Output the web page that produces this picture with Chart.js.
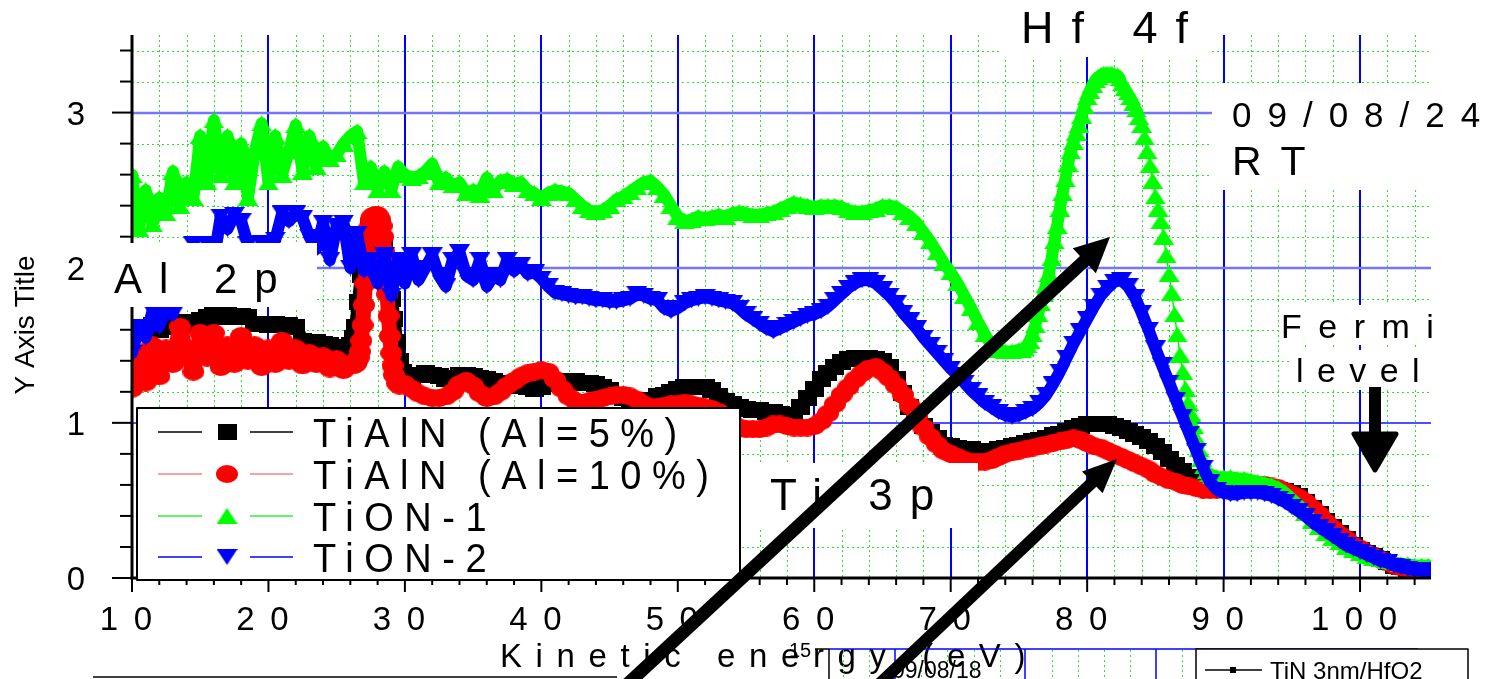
<!DOCTYPE html>
<html>
<head>
<meta charset="utf-8">
<title>Kinetic energy spectra</title>
<script src="https://cdn.jsdelivr.net/npm/chart.js@4.4.1/dist/chart.umd.min.js"></script>
<style>
  html, body { margin: 0; padding: 0; background: #fff; }
  canvas { display: block; }
</style>
</head>
<body>
<canvas id="chart" width="1494" height="679"></canvas>
<script>
// ---------------- data ----------------
const xTickValues = [10, 20, 30, 40, 50, 60, 70, 80, 90, 100];
const yTickValues = [0, 1, 2, 3];
const seriesNames = ['TiAlN (Al=5%)', 'TiAlN (Al=10%)', 'TiON-1', 'TiON-2'];

// TiAlN (Al=5%)
const tialn5Energy = [
  10,10.5,11,11.5,12,12.5,13,13.5,14,14.5,15,15.5,16,16.5,17,17.5,18,18.5,19,19.5,
  20,20.5,21,21.5,22,22.5,23,23.5,24,24.5,25,25.5,26,26.2,26.4,26.6,26.8,27,27.2,27.4,27.6,27.8,28,28.2,28.4,28.6,28.8,29,29.2,29.4,29.6,29.8,
  30,30.5,31,31.5,32,32.5,33,33.5,34,34.5,35,35.5,36,36.5,37,37.5,38,38.5,39,39.5,
  40,40.5,41,41.5,42,42.5,43,43.5,44,44.5,45,45.5,46,46.5,47,47.5,48,48.5,49,49.5,
  50,50.5,51,51.5,52,52.5,53,53.5,54,54.5,55,55.5,56,56.5,57,57.5,58,58.5,59,59.5,
  60,60.5,61,61.5,62,62.5,63,63.5,64,64.5,65,65.5,66,66.5,67,67.5,68,68.5,69,69.5,
  70,70.5,71,71.5,72,72.5,73,73.5,74,74.5,75,75.5,76,76.5,77,77.5,78,78.5,79,79.5,
  80,80.5,81,81.5,82,82.5,83,83.5,84,84.5,85,85.5,86,86.5,87,87.5,88,88.5,89,89.5,
  90,90.5,91,91.5,92,92.5,93,93.5,94,94.5,95,95.5,96,96.5,97,97.5,98,98.5,99,99.5,
  100,100.5,101,101.5,102,102.5,103,103.5,104,104.5,105
];
const tialn5Intensity = [
  1.60,1.62,1.58,1.63,1.60,1.62,1.64,1.62,1.65,1.63,1.66,1.68,1.70,1.68,1.70,1.68,1.69,1.68,1.64,1.64,
  1.63,1.64,1.63,1.63,1.62,1.53,1.52,1.52,1.51,1.50,1.49,1.48,1.50,1.55,1.62,1.78,1.95,2.12,2.22,2.27,2.28,2.28,2.26,2.22,2.14,2.03,1.92,1.80,1.67,1.52,1.40,1.33,
  1.30,1.29,1.31,1.32,1.31,1.30,1.28,1.29,1.31,1.31,1.30,1.29,1.28,1.27,1.26,1.25,1.24,1.24,1.23,1.22,
  1.23,1.25,1.26,1.26,1.27,1.27,1.26,1.26,1.25,1.23,1.21,1.18,1.16,1.15,1.15,1.15,1.15,1.17,1.18,1.20,
  1.22,1.23,1.23,1.23,1.23,1.21,1.17,1.14,1.12,1.10,1.09,1.08,1.08,1.07,1.07,1.06,1.04,1.05,1.10,1.16,
  1.22,1.28,1.32,1.36,1.39,1.41,1.42,1.42,1.42,1.41,1.40,1.36,1.28,1.19,1.10,1.04,0.98,0.94,0.90,0.86,
  0.85,0.84,0.83,0.83,0.82,0.82,0.82,0.83,0.84,0.85,0.86,0.87,0.88,0.89,0.90,0.92,0.93,0.95,0.97,0.98,
  0.99,0.99,0.99,0.99,0.98,0.97,0.95,0.93,0.91,0.88,0.85,0.81,0.77,0.73,0.69,0.65,0.61,0.59,0.57,0.57,
  0.57,0.57,0.57,0.58,0.58,0.58,0.58,0.58,0.57,0.56,0.55,0.53,0.49,0.45,0.41,0.37,0.33,0.29,0.25,0.21,
  0.18,0.16,0.14,0.12,0.10,0.08,0.07,0.06,0.05,0.04,0.04
];

// TiAlN (Al=10%)
const tialn10Energy = [
  10,10.5,11,11.5,12,12.5,13,13.5,14,14.5,15,15.5,16,16.5,17,17.5,18,18.5,19,19.5,
  20,20.5,21,21.5,22,22.5,23,23.5,24,24.5,25,25.5,26,26.2,26.4,26.5,26.6,26.7,26.8,26.9,27,27.1,27.2,27.3,27.4,27.5,27.6,27.8,28,28.2,28.3,28.4,28.5,28.6,28.7,28.8,28.9,29,29.1,29.2,29.4,29.6,
  30,30.5,31,31.5,32,32.5,33,33.5,34,34.5,35,35.5,36,36.5,37,37.5,38,38.5,39,39.5,
  40,40.5,41,41.5,42,42.5,43,43.5,44,44.5,45,45.5,46,46.5,47,47.5,48,48.5,49,49.5,
  50,50.5,51,51.5,52,52.5,53,53.5,54,54.5,55,55.5,56,56.5,57,57.5,58,58.5,59,59.5,
  60,60.5,61,61.5,62,62.5,63,63.5,64,64.5,65,65.5,66,66.5,67,67.5,68,68.5,69,69.5,
  70,70.5,71,71.5,72,72.5,73,73.5,74,74.5,75,75.5,76,76.5,77,77.5,78,78.5,79,79.5,
  80,80.5,81,81.5,82,82.5,83,83.5,84,84.5,85,85.5,86,86.5,87,87.5,88,88.5,89,89.5,
  90,90.5,91,91.5,92,92.5,93,93.5,94,94.5,95,95.5,96,96.5,97,97.5,98,98.5,99,99.5,
  100,100.5,101,101.5,102,102.5,103,103.5,104,104.5,105
];
const tialn10Intensity = [
  1.22,1.45,1.26,1.50,1.30,1.48,1.38,1.62,1.45,1.33,1.58,1.42,1.58,1.36,1.50,1.38,1.56,1.40,1.50,1.36,
  1.48,1.38,1.53,1.40,1.48,1.37,1.45,1.38,1.43,1.35,1.41,1.34,1.38,1.37,1.38,1.40,1.42,1.46,1.53,1.63,1.76,1.90,2.04,2.17,2.26,2.31,2.33,2.34,2.34,2.31,2.27,2.20,2.10,1.97,1.83,1.69,1.56,1.45,1.37,1.31,1.26,1.24,
  1.25,1.22,1.19,1.17,1.16,1.16,1.17,1.20,1.25,1.27,1.24,1.19,1.16,1.17,1.20,1.24,1.27,1.30,1.32,1.33,
  1.34,1.33,1.28,1.22,1.17,1.14,1.13,1.14,1.15,1.16,1.17,1.18,1.18,1.17,1.15,1.12,1.10,1.10,1.11,1.12,
  1.12,1.13,1.12,1.11,1.10,1.09,1.07,1.04,1.00,0.97,0.96,0.96,0.96,0.97,0.99,0.99,0.98,0.97,0.97,0.97,
  0.98,1.01,1.06,1.12,1.18,1.23,1.28,1.32,1.35,1.36,1.33,1.29,1.24,1.18,1.11,1.04,0.97,0.91,0.86,0.82,
  0.80,0.78,0.76,0.75,0.75,0.75,0.76,0.78,0.80,0.81,0.82,0.83,0.84,0.85,0.86,0.87,0.88,0.89,0.90,0.89,
  0.87,0.85,0.84,0.82,0.80,0.78,0.76,0.74,0.72,0.70,0.67,0.65,0.63,0.62,0.60,0.59,0.58,0.57,0.57,0.57,
  0.58,0.59,0.60,0.60,0.60,0.60,0.60,0.59,0.58,0.56,0.54,0.52,0.49,0.45,0.41,0.36,0.32,0.28,0.25,0.21,
  0.19,0.16,0.14,0.12,0.10,0.08,0.07,0.06,0.05,0.04,0.04
];

// TiON-1
const tion1Energy = [
  10,10.5,11,11.5,12,12.5,13,13.5,14,14.5,15,15.5,16,16.5,17,17.5,18,18.5,19,19.5,
  20,20.5,21,21.5,22,22.5,23,23.5,24,24.5,25,25.5,26,26.5,27,27.5,28,28.5,29,29.5,
  30,30.5,31,31.5,32,32.5,33,33.5,34,34.5,35,35.5,36,36.5,37,37.5,38,38.5,39,39.5,
  40,40.5,41,41.5,42,42.5,43,43.5,44,44.5,45,45.5,46,46.5,47,47.5,48,48.5,49,49.5,
  50,50.5,51,51.5,52,52.5,53,53.5,54,54.5,55,55.5,56,56.5,57,57.5,58,58.5,59,59.5,
  60,60.5,61,61.5,62,62.5,63,63.5,64,64.5,65,65.5,66,66.5,67,67.5,68,68.5,69,69.5,
  70,70.5,71,71.5,72,72.5,73,73.5,74,74.5,75,
  75.2,75.4,75.6,75.8,76,76.2,76.4,76.6,76.8,77,77.2,77.4,77.6,77.8,78,78.2,78.4,78.6,78.8,79,
  79.2,79.4,79.6,79.8,80,80.2,80.4,80.6,80.8,81,81.2,81.4,81.6,81.8,82,82.2,82.4,82.6,82.8,83,
  83.2,83.4,83.6,83.8,84,84.2,84.4,84.6,84.8,85,85.2,85.4,85.6,85.8,86,86.2,86.4,86.6,86.8,87,
  87.2,87.4,87.6,87.8,88,88.2,88.4,88.6,88.8,89,89.2,
  89.5,90,90.5,91,91.5,92,92.5,93,93.5,94,94.5,95,95.5,96,96.5,97,97.5,98,98.5,99,99.5,
  100,100.5,101,101.5,102,102.5,103,103.5,104,104.5,105
];
const tion1Intensity = [
  2.60,2.25,2.50,2.28,2.45,2.35,2.62,2.40,2.55,2.45,2.85,2.55,2.95,2.60,2.85,2.55,2.80,2.45,2.75,2.93,
  2.55,2.85,2.60,2.75,2.92,2.62,2.85,2.65,2.78,2.70,2.73,2.80,2.85,2.88,2.55,2.65,2.50,2.62,2.50,2.65,
  2.60,2.58,2.59,2.62,2.67,2.55,2.58,2.53,2.55,2.48,2.50,2.47,2.58,2.50,2.56,2.57,2.54,2.55,2.50,2.48,
  2.45,2.48,2.50,2.49,2.48,2.44,2.40,2.37,2.36,2.37,2.40,2.44,2.46,2.49,2.52,2.55,2.56,2.52,2.47,2.40,
  2.33,2.30,2.31,2.33,2.32,2.33,2.34,2.33,2.35,2.36,2.35,2.34,2.34,2.35,2.36,2.38,2.40,2.42,2.41,2.40,
  2.39,2.40,2.40,2.40,2.39,2.37,2.36,2.36,2.37,2.38,2.40,2.40,2.39,2.36,2.33,2.29,2.23,2.17,2.10,2.03,
  1.97,1.90,1.82,1.74,1.65,1.57,1.50,1.47,1.46,1.46,1.47,
  1.47,1.48,1.50,1.53,1.57,1.63,1.70,1.77,1.83,1.89,1.96,2.06,2.17,2.27,2.38,2.48,2.57,2.67,2.75,2.81,
  2.87,2.92,2.98,3.04,3.10,3.14,3.18,3.21,3.23,3.24,3.25,3.25,3.25,3.25,3.24,3.24,3.22,3.19,3.16,3.13,
  3.10,3.06,3.02,2.97,2.92,2.84,2.75,2.66,2.56,2.46,2.38,2.30,2.20,2.08,1.96,1.84,1.70,1.57,1.44,1.33,
  1.22,1.13,1.06,0.98,0.90,0.83,0.77,0.72,0.69,0.67,0.66,
  0.65,0.65,0.65,0.64,0.64,0.63,0.62,0.61,0.60,0.58,0.55,0.51,0.47,0.42,0.37,0.33,0.29,0.26,0.23,0.20,0.18,
  0.16,0.14,0.13,0.12,0.11,0.10,0.09,0.09,0.08,0.08,0.08
];

// TiON-2
const tion2Energy = [
  10,10.5,11,11.5,12,12.5,13,13.5,14,14.5,15,15.5,16,16.5,17,17.5,18,18.5,19,19.5,
  20,20.5,21,21.5,22,22.5,23,23.5,24,24.5,25,25.5,26,26.5,27,27.5,28,28.5,29,29.5,
  30,30.5,31,31.5,32,32.5,33,33.5,34,34.5,35,35.5,36,36.5,37,37.5,38,38.5,39,39.5,
  40,40.5,41,41.5,42,42.5,43,43.5,44,44.5,45,45.5,46,46.5,47,47.5,48,48.5,49,49.5,
  50,50.5,51,51.5,52,52.5,53,53.5,54,54.5,55,55.5,56,56.5,57,57.5,58,58.5,59,59.5,
  60,60.5,61,61.5,62,62.5,63,63.5,64,64.5,65,65.5,66,66.5,67,67.5,68,68.5,69,69.5,
  70,70.5,71,71.5,72,72.5,73,73.5,74,74.5,75,75.5,76,76.5,77,77.5,78,78.5,79,79.5,
  80,80.5,81,81.5,82,82.5,83,83.5,84,84.5,85,85.5,86,86.5,87,87.5,88,88.5,89,89.5,
  90,90.5,91,91.5,92,92.5,93,93.5,94,94.5,95,95.5,96,96.5,97,97.5,98,98.5,99,99.5,
  100,100.5,101,101.5,102,102.5,103,103.5,104,104.5,105
];
const tion2Intensity = [
  1.45,1.62,1.55,1.72,1.62,1.80,1.70,1.95,1.85,2.15,1.95,2.15,2.05,2.33,2.25,2.34,2.30,2.15,2.05,2.16,
  2.05,2.18,2.35,2.30,2.35,2.32,2.20,2.12,2.29,2.05,2.27,2.29,2.00,2.22,1.98,2.05,1.90,2.08,1.82,2.05,
  1.90,2.08,1.92,2.00,2.08,1.95,1.88,2.05,2.10,1.95,1.92,2.05,1.88,1.95,1.92,2.05,1.98,2.02,1.96,1.97,
  1.93,1.88,1.84,1.83,1.82,1.81,1.81,1.80,1.79,1.79,1.78,1.78,1.79,1.80,1.83,1.82,1.80,1.79,1.74,1.72,
  1.74,1.77,1.79,1.80,1.81,1.80,1.79,1.78,1.77,1.74,1.70,1.67,1.64,1.61,1.59,1.61,1.63,1.65,1.67,1.69,
  1.70,1.72,1.75,1.79,1.83,1.87,1.90,1.92,1.92,1.90,1.86,1.82,1.77,1.71,1.66,1.61,1.55,1.50,1.45,1.40,
  1.35,1.31,1.26,1.21,1.17,1.13,1.10,1.07,1.05,1.04,1.05,1.07,1.09,1.13,1.18,1.25,1.33,1.42,1.51,1.59,
  1.67,1.75,1.82,1.87,1.91,1.92,1.88,1.81,1.71,1.60,1.48,1.37,1.26,1.15,1.04,0.93,0.82,0.71,0.62,0.57,
  0.55,0.54,0.54,0.55,0.55,0.55,0.54,0.53,0.51,0.49,0.46,0.43,0.40,0.36,0.33,0.30,0.27,0.24,0.21,0.19,
  0.17,0.15,0.13,0.11,0.10,0.08,0.07,0.06,0.05,0.05,0.04
];

// ---------------- styling helpers ----------------
const FONT = '"Liberation Sans", Arial, Helvetica, sans-serif';

function markerCanvas(w, h, paint) {
  const c = document.createElement('canvas');
  c.width = w; c.height = h;
  paint(c.getContext('2d'), w, h);
  return c;
}
const squareMark = markerCanvas(19, 16, (g, w, h) => { g.fillStyle = '#000'; g.fillRect(0, 0, w, h); });
const circleMark = markerCanvas(22, 18, (g, w, h) => {
  g.fillStyle = '#ff0000'; g.beginPath(); g.ellipse(w / 2, h / 2, w / 2, h / 2, 0, 0, Math.PI * 2); g.fill();
});
const upMark = markerCanvas(21, 16, (g, w, h) => {
  g.fillStyle = '#00ff00'; g.beginPath(); g.moveTo(w / 2, 0); g.lineTo(w, h); g.lineTo(0, h); g.closePath(); g.fill();
});
const downMark = markerCanvas(21, 16, (g, w, h) => {
  g.fillStyle = '#0000ff'; g.beginPath(); g.moveTo(0, 0); g.lineTo(w, 0); g.lineTo(w / 2, h); g.closePath(); g.fill();
});

const pairs = (xs, ys) => xs.map((e, i) => ({ x: e, y: ys[i] }));

// text drawn with extra tracking (optionally stretched vertically)
function spacedText(ctx, str, x, base, o) {
  ctx.save();
  ctx.font = `${o.size}px ${FONT}`;
  ctx.fillStyle = o.color || '#000';
  ctx.textBaseline = 'alphabetic';
  const sp = o.spacing || 0;
  const chars = Array.from(str);
  const widths = chars.map(ch => ctx.measureText(ch).width);
  const total = widths.reduce((a, b) => a + b, 0) + sp * (chars.length - 1);
  const start = o.align === 'center' ? x - total / 2 : (o.align === 'right' ? x - total : x);
  ctx.translate(start, base);
  ctx.scale(1, o.sy || 1);
  ctx.textAlign = 'left';
  if ('letterSpacing' in ctx) {
    ctx.letterSpacing = sp + 'px';
    ctx.fillText(str, 0, 0);
    ctx.letterSpacing = '0px';
  } else {
    let cx = 0;
    chars.forEach((ch, i) => { ctx.fillText(ch, cx, 0); cx += widths[i] + sp; });
  }
  ctx.restore();
}

function seg(ctx, x0, y0, x1, y1) {
  ctx.beginPath(); ctx.moveTo(x0, y0); ctx.lineTo(x1, y1); ctx.stroke();
}

function arrow(ctx, x0, y0, tx, ty, headLen, headHalf, width) {
  const dx = tx - x0, dy = ty - y0, len = Math.hypot(dx, dy);
  const ux = dx / len, uy = dy / len, nx = -uy, ny = ux;
  const bx = tx - ux * headLen, by = ty - uy * headLen;
  ctx.save();
  ctx.strokeStyle = '#000'; ctx.fillStyle = '#000';
  ctx.lineWidth = width; ctx.lineCap = 'butt';
  seg(ctx, x0, y0, bx + ux * 2, by + uy * 2);
  ctx.beginPath();
  ctx.moveTo(tx, ty);
  ctx.lineTo(bx + nx * headHalf, by + ny * headHalf);
  ctx.lineTo(bx - nx * headHalf, by - ny * headHalf);
  ctx.closePath(); ctx.fill();
  ctx.restore();
}

// ---------------- plot furniture ----------------
const furniture = {
  id: 'furniture',
  beforeDraw(chart) {
    const { ctx } = chart;
    ctx.save(); ctx.fillStyle = '#fff'; ctx.fillRect(0, 0, chart.width, chart.height); ctx.restore();
  },
  beforeDatasetsDraw(chart) {
    const { ctx, chartArea: a, scales: { x, y } } = chart;
    ctx.save();
    ctx.beginPath(); ctx.rect(a.left, a.top, a.right - a.left, a.bottom - a.top); ctx.clip();
    // minor dotted grid
    ctx.strokeStyle = '#22e622'; ctx.lineWidth = 1; ctx.setLineDash([2, 3]);
    for (let e = 12; e <= 104; e += 2) {
      if (e % 10 === 0) continue;
      const X = Math.round(x.getPixelForValue(e)) + 0.5;
      seg(ctx, X, a.top, X, a.bottom);
    }
    for (let i = 1; i <= 17; i++) {
      if (i % 5 === 0) continue;
      const Y = Math.round(y.getPixelForValue(i / 5)) + 0.5;
      seg(ctx, a.left, Y, a.right, Y);
    }
    ctx.setLineDash([]);
    // major grid
    ctx.strokeStyle = '#0000ff'; ctx.lineWidth = 2;
    for (let e = 20; e <= 100; e += 10) {
      const X = Math.round(x.getPixelForValue(e));
      seg(ctx, X, a.top, X, a.bottom);
    }
    [[1, '#1515ff', 1.5], [2, '#7474ff', 2.5], [3, '#7474ff', 2.5]].forEach(([v, c, w]) => {
      ctx.strokeStyle = c; ctx.lineWidth = w;
      const Y = Math.round(y.getPixelForValue(v));
      seg(ctx, a.left, Y, a.right, Y);
    });
    ctx.restore();
  },
  afterDraw(chart) {
    const { ctx, chartArea: a, scales: { x, y } } = chart;
    ctx.save();

    // axes
    ctx.strokeStyle = '#000'; ctx.lineWidth = 3;
    seg(ctx, a.left, a.top, a.left, a.bottom + 1.5);
    seg(ctx, a.left - 1.5, a.bottom, a.right, a.bottom);
    ctx.lineWidth = 2;
    for (let i = 0; i <= 17; i++) {
      const Y = y.getPixelForValue(i / 5);
      seg(ctx, a.left - (i % 5 === 0 ? 20 : 12), Y, a.left, Y);
    }
    for (let e = 10; e <= 104; e += 2) {
      const X = x.getPixelForValue(e);
      seg(ctx, X, a.bottom, X, a.bottom + (e % 10 === 0 ? 14 : 7));
    }

    // tick labels
    xTickValues.forEach(v => spacedText(ctx, String(v), x.getPixelForValue(v) - 6, 630, { size: 33, spacing: 15.6, align: 'center' }));
    yTickValues.forEach(v => spacedText(ctx, String(v), 76, y.getPixelForValue(v) + 12, { size: 33, align: 'center' }));

    // axis titles
    spacedText(ctx, 'Kinetic energy (eV)', 500, 667, { size: 33, spacing: 13.6 });
    ctx.save();
    ctx.translate(26, 325); ctx.rotate(-Math.PI / 2);
    ctx.font = `28px ${FONT}`; ctx.fillStyle = '#000'; ctx.textAlign = 'center'; ctx.textBaseline = 'middle';
    ctx.fillText('Y Axis Title', 0, 0);
    ctx.restore();

    // label panels
    ctx.fillStyle = '#fff';
    [[108, 243, 209, 64], [1000, 0, 212, 57], [1212, 83, 282, 107],
     [1280, 305, 165, 40], [1292, 350, 140, 40], [742, 463, 236, 65]].forEach(r => ctx.fillRect(...r));

    spacedText(ctx, 'Al 2p', 114, 293, { size: 42, spacing: 17 });
    spacedText(ctx, 'Hf 4f', 1021, 43, { size: 45, spacing: 18 });
    spacedText(ctx, '09/08/24', 1232, 127, { size: 35, spacing: 16 });
    spacedText(ctx, 'RT', 1232, 175, { size: 41, spacing: 19.7 });
    spacedText(ctx, 'Fermi', 1281, 338, { size: 34, spacing: 16.5 });
    spacedText(ctx, 'level', 1296, 382, { size: 34, spacing: 13.4 });
    spacedText(ctx, 'Ti 3p', 770, 510, { size: 44, spacing: 17 });

    // Fermi level marker
    ctx.fillStyle = '#000'; ctx.strokeStyle = '#000';
    ctx.fillRect(1369, 387, 12, 48);
    ctx.lineJoin = 'round'; ctx.lineWidth = 5;
    ctx.beginPath(); ctx.moveTo(1354, 434); ctx.lineTo(1396, 434); ctx.lineTo(1375, 470); ctx.closePath();
    ctx.fill(); ctx.stroke();

    // legend
    ctx.fillStyle = '#fff'; ctx.fillRect(137, 408, 603, 172);
    ctx.strokeStyle = '#000'; ctx.lineWidth = 2; ctx.strokeRect(137, 408, 603, 172);
    const legendRows = [
      { name: seriesNames[0], mark: squareMark, line: '#000000', base: 447 },
      { name: seriesNames[1], mark: circleMark, line: '#ff8080', base: 489 },
      { name: seriesNames[2], mark: upMark, line: '#33ee33', base: 531 },
      { name: seriesNames[3], mark: downMark, line: '#0000ff', base: 572 }
    ];
    legendRows.forEach(r => {
      const cy = r.base - 15;
      ctx.strokeStyle = r.line; ctx.lineWidth = 1.5;
      seg(ctx, 158, cy, 202, cy); seg(ctx, 250, cy, 293, cy);
      ctx.drawImage(r.mark, 227 - r.mark.width / 2, cy - r.mark.height / 2);
      spacedText(ctx, r.name, 313, r.base, { size: 38, sy: 1.08, spacing: 10.5 });
    });

    // next figure peeking in at the bottom edge
    ctx.strokeStyle = '#000'; ctx.lineWidth = 1.5;
    seg(ctx, 93, 677, 617, 677);
    ctx.strokeStyle = '#33dd33'; ctx.lineWidth = 1; ctx.setLineDash([2, 3]);
    for (let k = 0; k < 14; k++) {
      if ((k - 2) % 5 === 0) continue;
      const X = Math.round(843 + k * 26.1) + 0.5;
      seg(ctx, X, 650, X, 679);
    }
    ctx.setLineDash([]);
    ctx.strokeStyle = '#0000ff'; ctx.lineWidth = 1.5;
    [895, 1025, 1156].forEach(X => seg(ctx, X, 649, X, 679));
    seg(ctx, 829, 649, 1418, 649);
    ctx.strokeStyle = '#000'; ctx.lineWidth = 1.5;
    seg(ctx, 829, 649, 829, 679); seg(ctx, 815, 649, 829, 649);
    ctx.fillStyle = '#000'; ctx.font = `20px ${FONT}`; ctx.textAlign = 'left'; ctx.textBaseline = 'alphabetic';
    ctx.fillText('15', 789, 657);
    ctx.font = `23px ${FONT}`;
    ctx.fillText('09/08/18', 892, 678);
    ctx.fillStyle = '#fff'; ctx.fillRect(1196, 649, 272, 32);
    ctx.strokeStyle = '#000'; ctx.lineWidth = 1.5; ctx.strokeRect(1196, 649, 272, 34);
    seg(ctx, 1205, 670, 1262, 670);
    ctx.fillStyle = '#000'; ctx.fillRect(1230, 667, 6, 6);
    ctx.font = `24px ${FONT}`;
    ctx.fillText('TiN 3nm/HfO2', 1270, 679);

    // pointer arrows
    arrow(ctx, 621, 690, 1110, 237, 35, 17, 13);
    arrow(ctx, 873, 690, 1117, 459, 34, 15, 12);

    ctx.restore();
  }
};

// ---------------- chart ----------------
const greenWidth = (c) => {
  const e0 = tion1Energy[c.p0DataIndex];
  return e0 >= 82.4 && e0 < 89.2 ? 1.5 : 12;
};

new Chart(document.getElementById('chart'), {
  type: 'line',
  data: {
    datasets: [
      {
        label: seriesNames[3], data: pairs(tion2Energy, tion2Intensity), order: 1,
        borderColor: '#0000ff', borderWidth: 12, pointStyle: downMark, pointRadius: 9, clip: 0,
        borderJoinStyle: 'round', borderCapStyle: 'round'
      },
      {
        label: seriesNames[2], data: pairs(tion1Energy, tion1Intensity), order: 2,
        borderColor: '#00ff00', borderWidth: 12, pointStyle: upMark, pointRadius: 9, clip: 0,
        borderJoinStyle: 'round', borderCapStyle: 'round',
        segment: { borderWidth: greenWidth }
      },
      {
        label: seriesNames[1], data: pairs(tialn10Energy, tialn10Intensity), order: 3,
        borderColor: '#ff0000', borderWidth: 15, pointStyle: circleMark, pointRadius: 9, clip: 0,
        borderJoinStyle: 'round', borderCapStyle: 'round'
      },
      {
        label: seriesNames[0], data: pairs(tialn5Energy, tialn5Intensity), order: 4,
        borderColor: '#000000', borderWidth: 13, pointStyle: squareMark, pointRadius: 9, clip: 0,
        borderJoinStyle: 'round', borderCapStyle: 'round'
      }
    ]
  },
  options: {
    responsive: false,
    devicePixelRatio: 1,
    animation: false,
    events: [],
    layout: { padding: { left: 132, right: 63, top: 35, bottom: 101 } },
    scales: {
      x: { type: 'linear', min: 10, max: 105.2, display: false },
      y: { type: 'linear', min: 0, max: 3.5, display: false }
    },
    plugins: { legend: { display: false }, tooltip: { enabled: false } }
  },
  plugins: [furniture]
});
</script>
</body>
</html>
